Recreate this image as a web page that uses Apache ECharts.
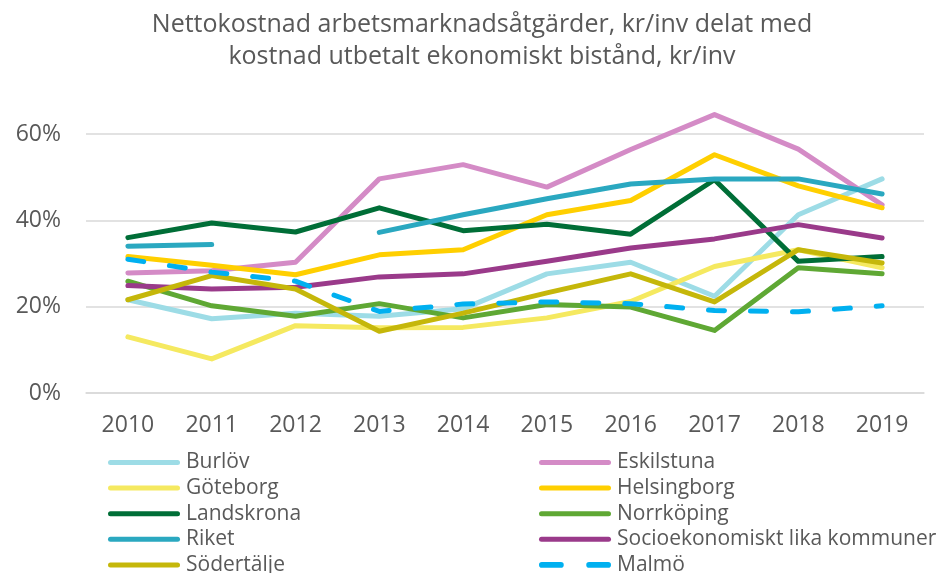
<!DOCTYPE html>
<html>
<head>
    <meta charset="UTF-8">
    <title>Nettokostnad arbetsmarknadsåtgärder</title>
    <script src="https://cdn.jsdelivr.net/npm/echarts@6/dist/echarts.min.js"></script>
    <style>
        html, body { margin: 0; padding: 0; background: #fff; }
    </style>
</head>
<body>
<div id="chart" style="width:946px; height:573px;"></div>
<script>
    var years = ['2010', '2011', '2012', '2013', '2014', '2015', '2016', '2017', '2018', '2019'];

    // procent per år
    var burlov      = [21.6, 17.2, 18.5, 17.8, 19.5, 27.6, 30.3, 22.4, 41.3, 49.6];
    var eskilstuna  = [27.8, 28.3, 30.3, 49.6, 52.9, 47.7, 56.4, 64.5, 56.5, 43.6];
    var goteborg    = [13.0, 7.9, 15.6, 15.1, 15.2, 17.4, 21.2, 29.3, 33.2, 29.0];
    var helsingborg = [31.6, 29.6, 27.4, 32.0, 33.2, 41.3, 44.6, 55.2, 48.0, 42.9];
    var landskrona  = [36.0, 39.4, 37.3, 42.9, 37.6, 39.1, 36.8, 49.4, 30.5, 31.6];
    var norrkoping  = [25.9, 20.2, 17.8, 20.7, 17.4, 20.5, 19.9, 14.5, 29.0, 27.6];
    var riket       = [34.0, 34.4, null, 37.2, 41.3, 45.0, 48.4, 49.6, 49.6, 46.1];
    var socio       = [24.9, 24.1, 24.5, 26.9, 27.6, 30.5, 33.6, 35.7, 39.0, 35.9];
    var sodertalje  = [21.6, 27.2, 24.1, 14.3, 18.5, 23.2, 27.6, 21.1, 33.2, 30.1];
    var malmo       = [31.0, 28.0, 25.9, 18.9, 20.6, 21.1, 20.7, 19.1, 18.8, 20.2];

    var yTicks = [0, 20, 40, 60];

    var leftNames = ['Burlöv', 'Göteborg', 'Landskrona', 'Riket', 'Södertälje'];
    var rightNames = ['Eskilstuna', 'Helsingborg', 'Norrköping', 'Socioekonomiskt lika kommuner', 'Malmö'];

    var font = '"Open Sans", "DejaVu Sans", sans-serif';
    var grey = '#595959';

    // legend icons: a thick rounded line, and a dashed one for Malmö
    var solidIcon = 'path://M2.5,0h67a2.5,2.5 0 0 1 0,5h-67a2.5,2.5 0 0 1 0,-5z';
    var dashIcon = 'path://M2.5,0h17a2.5,2.5 0 0 1 0,5h-17a2.5,2.5 0 0 1 0,-5zM44.5,0h17a2.5,2.5 0 0 1 0,5h-17a2.5,2.5 0 0 1 0,-5z';

    function line(name, data, color, dashed) {
        return {
            name: name,
            type: 'line',
            data: data,
            symbol: 'none',
            clip: false,
            connectNulls: false,
            lineStyle: {
                color: color,
                width: 5,
                cap: 'round',
                join: 'round',
                type: dashed ? [16, 26] : 'solid'
            },
            itemStyle: { color: color }
        };
    }

    // one legend per entry so the two columns line up like the original
    var legends = [];
    function addLegendCol(left, names) {
        names.forEach(function (n, i) {
            legends.push({
                left: left,
                top: 452 + i * 25.6,
                padding: 0,
                itemWidth: 72,
                itemHeight: 20,
                data: [{ name: n, icon: n === 'Malmö' ? dashIcon : solidIcon }],
                textStyle: { color: grey, fontFamily: font, fontSize: 21, padding: [0, 0, 0, 1] }
            });
        });
    }
    addLegendCol(108, leftNames);
    addLegendCol(539, rightNames);

    var chart = echarts.init(document.getElementById('chart'), null, {renderer: 'canvas'});

    chart.setOption({
        animation: false,
        title: {
            text: 'Nettokostnad arbetsmarknadsåtgärder, kr/inv delat med\nkostnad utbetalt ekonomiskt bistånd, kr/inv',
            left: 482,
            textAlign: 'center',
            top: 9,
            padding: 0,
            textStyle: {
                fontFamily: font,
                fontWeight: 'normal',
                fontSize: 25,
                lineHeight: 32,
                color: grey
            }
        },
        grid: {
            left: 86,
            right: 22,
            top: 134,
            bottom: 180
        },
        xAxis: {
            type: 'category',
            data: years,
            boundaryGap: true,
            axisLine: { lineStyle: { color: '#d9d9d9', width: 1.5 } },
            axisTick: { show: false },
            axisLabel: {
                color: grey,
                fontFamily: font,
                fontSize: 23,
                margin: 21
            }
        },
        yAxis: {
            type: 'value',
            min: yTicks[0],
            max: yTicks[yTicks.length - 1],
            interval: 20,
            axisLine: { show: false },
            axisTick: { show: false },
            splitLine: { lineStyle: { color: '#d9d9d9', width: 1.5 } },
            axisLabel: {
                color: grey,
                fontFamily: font,
                fontSize: 23,
                margin: 25,
                formatter: '{value}%'
            }
        },
        legend: legends,
        series: [
            line('Burlöv', burlov, '#9ddce6'),
            line('Eskilstuna', eskilstuna, '#d48bc6'),
            line('Göteborg', goteborg, '#f5e960'),
            line('Helsingborg', helsingborg, '#ffcf00'),
            line('Landskrona', landskrona, '#006e37'),
            line('Norrköping', norrkoping, '#5fa834'),
            line('Riket', riket, '#2aa8c0'),
            line('Socioekonomiskt lika kommuner', socio, '#9a3a8a'),
            line('Södertälje', sodertalje, '#c5b70a'),
            line('Malmö', malmo, '#00b0f0', true)
        ]
    });
</script>
</body>
</html>
